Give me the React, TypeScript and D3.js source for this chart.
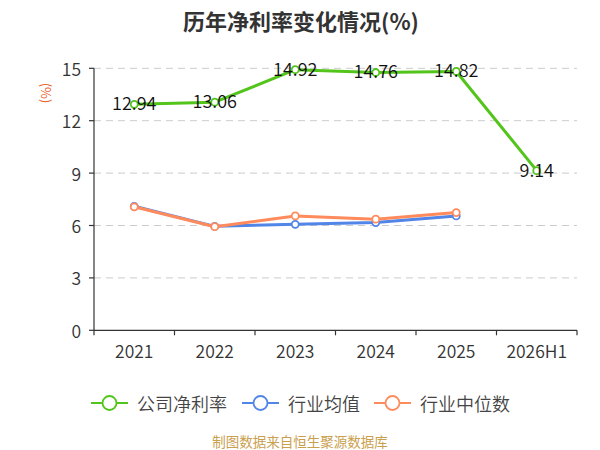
import * as d3 from 'd3';

const categories = ['2021', '2022', '2023', '2024', '2025', '2026H1'];
const companyRate = [12.94, 13.06, 14.92, 14.76, 14.82, 9.14];
const industryAvg = [7.1, 5.95, 6.07, 6.17, 6.55];
const industryMedian = [7.07, 5.93, 6.55, 6.36, 6.74];
const yTicks = [0, 3, 6, 9, 12, 15];

const GREEN = '#52c41a';
const BLUE = '#5185e8';
const ORANGE = '#ff8a5c';
const FONT = '"Noto Sans CJK SC", "Noto Sans", sans-serif';

const legendItems = [
    { label: '公司净利率', color: GREEN, x: 91 },
    { label: '行业均值', color: BLUE, x: 242 },
    { label: '行业中位数', color: ORANGE, x: 374 },
];

export default function App() {
    const width = 600;
    const height = 450;

    const x = d3.scaleBand<string>().domain(categories).range([94, 577]).padding(0);
    const y = d3.scaleLinear().domain([0, 15]).range([330.3, 68.3]);
    const cx = (c: string) => (x(c) ?? 0) + x.bandwidth() / 2;

    const line = d3.line<[number, number]>().x(d => d[0]).y(d => d[1]);
    const pts = (vals: number[]) => vals.map((v, i) => [cx(categories[i]), y(v)] as [number, number]);

    const series = [
        { vals: industryAvg, color: BLUE },
        { vals: industryMedian, color: ORANGE },
        { vals: companyRate, color: GREEN },
    ];

    return (
        <svg
            width={width}
            height={height}
            style={{ position: 'absolute', left: 0, top: 0, background: '#fff' }}
            fontFamily={FONT}
        >
            <text x={301} y={20} textAnchor="middle" dominantBaseline="central"
                fontSize={22} fontWeight="bold" fill="#333">历年净利率变化情况(%)</text>

            {/* grid */}
            {yTicks.filter(t => t > 0).map(t => (
                <line key={t} x1={94} x2={577} y1={y(t)} y2={y(t)}
                    stroke="#ccc" strokeWidth={1} strokeDasharray="7,5" />
            ))}

            {/* y axis */}
            <line x1={94} x2={94} y1={y(15)} y2={y(0)} stroke="#333" strokeWidth={1.2} />
            {yTicks.map(t => (
                <g key={t}>
                    <line x1={89} x2={94} y1={y(t)} y2={y(t)} stroke="#333" strokeWidth={1.2} />
                    <text x={81} y={y(t)} textAnchor="end" dominantBaseline="central"
                        fontSize={17.5} fill="#333" fontWeight={350}>{t}</text>
                </g>
            ))}
            <text transform="translate(46,93) rotate(90)" textAnchor="middle" dominantBaseline="central"
                fontSize={13} fill="#e8622a">(%)</text>

            {/* x axis */}
            <line x1={94} x2={577} y1={y(0)} y2={y(0)} stroke="#333" strokeWidth={1.2} />
            {[...categories.map(c => x(c) ?? 0), 577].map((t, i) => (
                <line key={i} x1={t} x2={t} y1={y(0)} y2={y(0) + 5} stroke="#333" strokeWidth={1.2} />
            ))}
            {categories.map(c => (
                <text key={c} x={cx(c)} y={350} textAnchor="middle" dominantBaseline="central"
                    fontSize={17.5} fill="#333" fontWeight={350}>{c}</text>
            ))}

            {/* lines */}
            {series.map((s, si) => (
                <g key={si}>
                    <path d={line(pts(s.vals)) ?? ''} fill="none" stroke={s.color} strokeWidth={3}
                        strokeLinejoin="round" />
                    {pts(s.vals).map((p, i) => (
                        <circle key={i} cx={p[0]} cy={p[1]} r={3.5} fill="#fff" stroke={s.color} strokeWidth={1.8} />
                    ))}
                </g>
            ))}

            {/* data labels */}
            {companyRate.map((v, i) => (
                <text key={i} x={cx(categories[i])} y={y(v) - 2} textAnchor="middle" dominantBaseline="central"
                    fontSize={18} fill="#111" fontWeight={350}>{v.toFixed(2)}</text>
            ))}

            {/* legend */}
            {legendItems.map(item => (
                <g key={item.label}>
                    <line x1={item.x} x2={item.x + 37} y1={403} y2={403} stroke={item.color} strokeWidth={2} />
                    <circle cx={item.x + 18.5} cy={403} r={7} fill="#fff" stroke={item.color} strokeWidth={1.8} />
                    <text x={item.x + 46} y={403} dominantBaseline="central" fontSize={18} fill="#444"
                        fontWeight={350}>{item.label}</text>
                </g>
            ))}

            <text x={300} y={441} textAnchor="middle" dominantBaseline="central" fontSize={13.5}
                fill="#c9a04e">制图数据来自恒生聚源数据库</text>
        </svg>
    );
}
